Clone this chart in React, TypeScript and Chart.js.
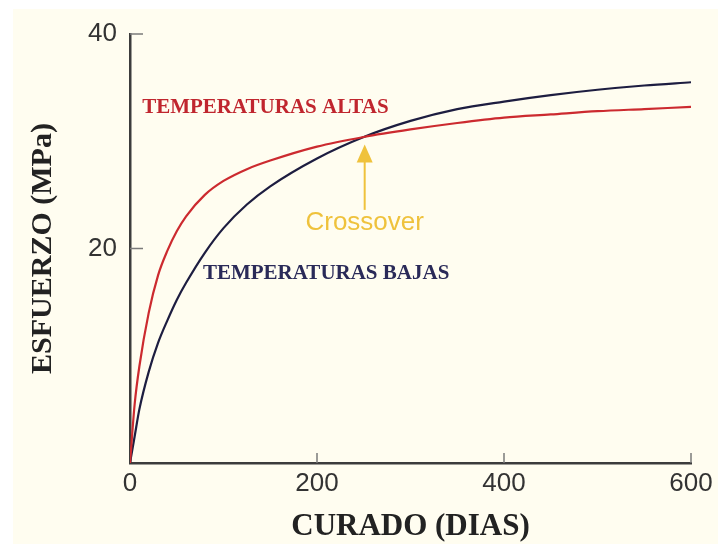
import React, { useEffect, useRef } from "react";
import { Chart, registerables } from "chart.js";

Chart.register(...registerables);

// ---- data (days of curing, strength in MPa) ----
const days = [0, 5, 10, 20, 30, 40, 50, 60, 80, 100, 125, 150, 200, 250, 300, 350, 400, 450, 500, 550, 600];
const altas = [0, 5.5, 9, 14, 17.5, 19.8, 21.6, 23.0, 25.0, 26.3, 27.4, 28.2, 29.5, 30.4, 31.1, 31.7, 32.2, 32.5, 32.8, 33.0, 33.2];
const bajas = [0, 2.5, 5, 8.5, 11.2, 13.3, 15.2, 16.8, 19.6, 21.9, 24.1, 25.8, 28.4, 30.4, 31.9, 33.0, 33.7, 34.3, 34.8, 35.2, 35.5];

const xTicks = [0, 200, 400, 600];
const yTicks = [20, 40];

const seriesNames = ["TEMPERATURAS ALTAS", "TEMPERATURAS BAJAS"];
const crossoverLabel = "Crossover";
// annotation anchors in data coordinates [days, MPa]
const altasLabelAt = [13, 33.1];
const bajasLabelAt = [78, 17.7];
const crossoverTextAt = [251, 22.4];
const arrowFrom = [251, 23.6];
const arrowTo = [251, 29.7];

const RED = "#cc2a2f";
const NAVY = "#1d1d40";
const GOLD = "#efc23c";
const CREAM = "#fffdf0";

const bgPlugin = {
  id: "bg",
  beforeDraw(chart: any) {
    const { ctx, width, height } = chart;
    ctx.save();
    ctx.fillStyle = "#ffffff";
    ctx.fillRect(0, 0, width, height);
    ctx.fillStyle = CREAM;
    ctx.fillRect(13, 9, width - 13, height - 9);
    ctx.restore();
  },
};

const decorPlugin = {
  id: "decor",
  afterDraw(chart: any) {
    const { ctx } = chart;
    const xs = chart.scales.x;
    const ys = chart.scales.y;
    const X = (v: number) => xs.getPixelForValue(v);
    const Y = (v: number) => ys.getPixelForValue(v);
    ctx.save();
    // inward tick marks
    ctx.strokeStyle = "#7a7a7a";
    ctx.lineWidth = 1.5;
    yTicks.forEach((t) => {
      ctx.beginPath();
      ctx.moveTo(X(0), Y(t));
      ctx.lineTo(X(0) + 13, Y(t));
      ctx.stroke();
    });
    xTicks.slice(1).forEach((t) => {
      ctx.beginPath();
      ctx.moveTo(X(t), Y(0));
      ctx.lineTo(X(t), Y(0) - 10);
      ctx.stroke();
    });
    // series labels
    ctx.font = "bold 21px 'Liberation Serif', 'Times New Roman', serif";
    ctx.textBaseline = "middle";
    ctx.textAlign = "left";
    ctx.fillStyle = "#c0262e";
    ctx.fillText(seriesNames[0], X(altasLabelAt[0]), Y(altasLabelAt[1]));
    ctx.fillStyle = "#2a2a58";
    ctx.fillText(seriesNames[1], X(bajasLabelAt[0]), Y(bajasLabelAt[1]));
    // crossover
    ctx.fillStyle = GOLD;
    ctx.font = "26px 'Liberation Sans', Arial, sans-serif";
    ctx.textAlign = "center";
    ctx.fillText(crossoverLabel, X(crossoverTextAt[0]), Y(crossoverTextAt[1]));
    const ax = X(arrowFrom[0]);
    const ay0 = Y(arrowFrom[1]);
    const ay1 = Y(arrowTo[1]);
    ctx.strokeStyle = GOLD;
    ctx.lineWidth = 2;
    ctx.beginPath();
    ctx.moveTo(ax, ay0);
    ctx.lineTo(ax, ay1 + 16);
    ctx.stroke();
    ctx.beginPath();
    ctx.moveTo(ax, ay1);
    ctx.lineTo(ax - 8, ay1 + 18);
    ctx.lineTo(ax + 8, ay1 + 18);
    ctx.closePath();
    ctx.fill();
    ctx.restore();
  },
};

export default function App() {
  const ref = useRef<HTMLCanvasElement>(null);
  useEffect(() => {
    if (!ref.current) return;
    const tickFont = { family: "'Liberation Sans', Arial, sans-serif", size: 26 };
    const titleFont = { family: "'Liberation Serif', 'Times New Roman', serif", size: 31, weight: "bold" as const };
    const chart = new Chart(ref.current, {
      type: "line",
      data: {
        datasets: [
          {
            label: seriesNames[0],
            data: days.map((d, i) => ({ x: d, y: altas[i] })),
            borderColor: RED,
            borderWidth: 2.2,
            pointRadius: 0,
            cubicInterpolationMode: "monotone",
          },
          {
            label: seriesNames[1],
            data: days.map((d, i) => ({ x: d, y: bajas[i] })),
            borderColor: NAVY,
            borderWidth: 2.2,
            pointRadius: 0,
            cubicInterpolationMode: "monotone",
          },
        ],
      },
      options: {
        animation: false,
        responsive: false,
        layout: { padding: { left: 0, top: 34, right: 27, bottom: 0 } },
        plugins: { legend: { display: false }, tooltip: { enabled: false } },
        scales: {
          x: {
            type: "linear",
            min: 0,
            max: 600,
            afterBuildTicks: (s: any) => {
              s.ticks = xTicks.map((v) => ({ value: v }));
            },
            afterFit: (s: any) => {
              s.height = 81;
            },
            grid: { display: false, drawTicks: false },
            border: { display: true, color: "#3c3c3c", width: 2.5 },
            ticks: { color: "#333", font: tickFont, padding: 5, maxRotation: 0 },
            title: { display: true, text: "CURADO (DIAS)", color: "#222", font: titleFont, padding: { top: 0, bottom: -2 } },
          },
          y: {
            type: "linear",
            min: 0,
            max: 40,
            afterBuildTicks: (s: any) => {
              s.ticks = yTicks.map((v) => ({ value: v }));
            },
            afterFit: (s: any) => {
              s.width = 130;
            },
            grid: { display: false, drawTicks: false },
            border: { display: true, color: "#3c3c3c", width: 2.5 },
            ticks: { color: "#333", font: tickFont, padding: 13 },
            title: { display: true, text: "ESFUERZO (MPa)", color: "#222", font: { ...titleFont, size: 30 }, padding: { top: 25, bottom: 0 } },
          },
        },
      },
      plugins: [bgPlugin, decorPlugin],
    } as any);
    return () => chart.destroy();
  }, []);
  return (
    <div style={{ position: "absolute", left: 0, top: 0, width: 718, height: 544 }}>
      <canvas ref={ref} width={718} height={544} style={{ display: "block", width: 718, height: 544 }} />
    </div>
  );
}
